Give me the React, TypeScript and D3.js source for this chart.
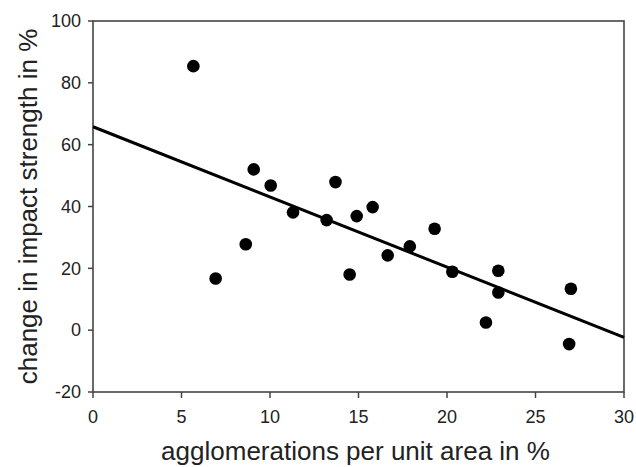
import React from "react";
import * as d3 from "d3";

const xValues = [5.67, 6.93, 8.63, 9.08, 10.04, 11.3, 13.2, 13.7, 14.5, 14.9, 15.8, 16.65, 17.9, 19.3, 20.3, 22.2, 22.9, 22.9, 26.9, 27.0];
const yValues = [85.4, 16.7, 27.8, 52.0, 46.8, 38.1, 35.6, 47.9, 18.0, 36.9, 39.8, 24.2, 27.1, 32.8, 18.9, 2.5, 19.2, 12.2, -4.5, 13.4];
const fitIntercept = 65.8;
const fitSlope = -2.27;
const xTicks = [0, 5, 10, 15, 20, 25, 30];
const yTicks = [-20, 0, 20, 40, 60, 80, 100];
const xTitle = "agglomerations per unit area in %";
const yTitle = "change in impact strength in %";

export default function App() {
  const W = 636, H = 467;
  const left = 93, right = 624, top = 21, bottom = 392;
  const x = d3.scaleLinear().domain([0, 30]).range([left, right]);
  const y = d3.scaleLinear().domain([-20, 100]).range([bottom, top]);
  const fitX = [0, 30];
  const line = d3.line<number>().x((d) => x(d)).y((d) => y(fitIntercept + fitSlope * d));
  const font = "'Liberation Sans', Arial, sans-serif";
  const axisColor = "#444";
  const textColor = "#222";
  return (
    <svg width={W} height={H} style={{ position: "absolute", left: 0, top: 0, background: "#fff" }}>
      <rect x={left} y={top} width={right - left} height={bottom - top} fill="none" stroke={axisColor} strokeWidth={1.6} />
      {xTicks.map((t) => (
        <g key={"x" + t}>
          <line x1={x(t)} x2={x(t)} y1={bottom} y2={bottom + 6} stroke={axisColor} strokeWidth={1.5} />
          <text x={x(t)} y={423} textAnchor="middle" fontFamily={font} fontSize={18} fill={textColor}>{t}</text>
        </g>
      ))}
      {yTicks.map((t) => (
        <g key={"y" + t}>
          <line x1={left - 5} x2={left} y1={y(t)} y2={y(t)} stroke={axisColor} strokeWidth={1.5} />
          <text x={81} y={y(t) + 6.3} textAnchor="end" fontFamily={font} fontSize={18} fill={textColor}>{t}</text>
        </g>
      ))}
      <path d={line(fitX) || ""} fill="none" stroke="#000" strokeWidth={3} />
      {xValues.map((v, i) => (
        <circle key={i} cx={x(v)} cy={y(yValues[i])} r={6.3} fill="#000" />
      ))}
      <text x={(left + right) / 2 - 3} y={460} textAnchor="middle" fontFamily={font} fontSize={26} fill={textColor}>{xTitle}</text>
      <text transform={`translate(37,${(top + bottom) / 2}) rotate(-90)`} textAnchor="middle" fontFamily={font} fontSize={26} fill={textColor}>{yTitle}</text>
    </svg>
  );
}
